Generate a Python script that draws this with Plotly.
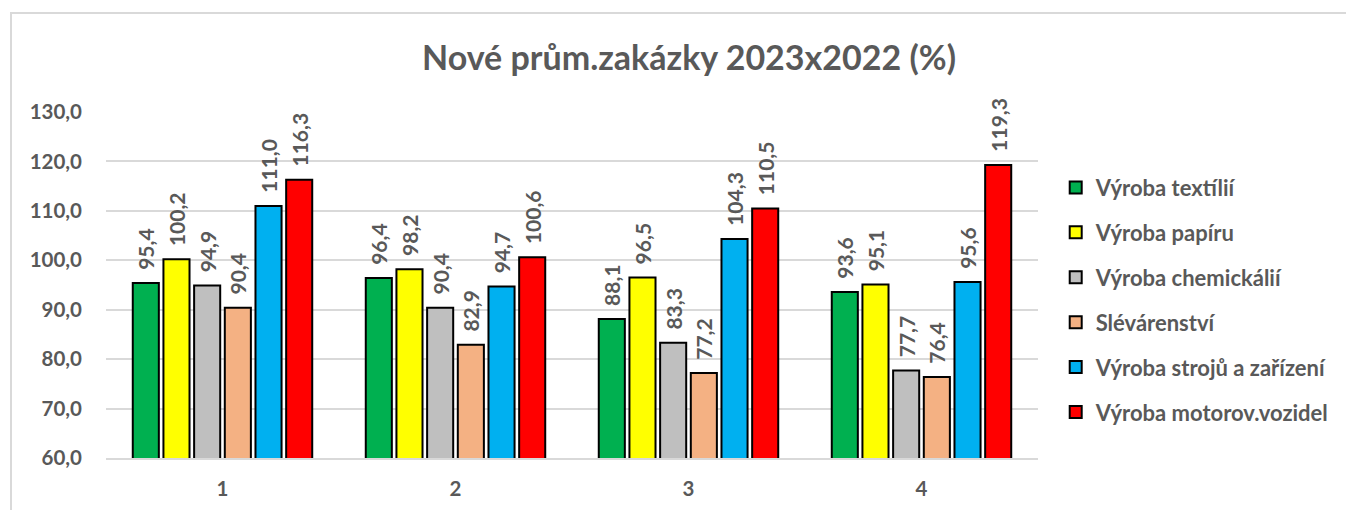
import plotly.graph_objects as go

kategorie = ["1", "2", "3", "4"]
obory = ["Výroba textílií", "Výroba papíru", "Výroba chemickálií", "Slévárenství",
         "Výroba strojů a zařízení", "Výroba motorov.vozidel"]
textilie = [95.4, 96.4, 88.1, 93.6]
papir = [100.2, 98.2, 96.5, 95.1]
chemikalie = [94.9, 90.4, 83.3, 77.7]
slevarenstvi = [90.4, 82.9, 77.2, 76.4]
stroje = [111.0, 94.7, 104.3, 95.6]
vozidla = [116.3, 100.6, 110.5, 119.3]
barvy = ["#00B050", "#FFFF00", "#BFBFBF", "#F4B183", "#00B0F0", "#FF0000"]

serie = [textilie, papir, chemikalie, slevarenstvi, stroje, vozidla]
font = "Lato"
seda = "#595959"

fig = go.Figure()
for i, (nazev, hodnoty) in enumerate(zip(obory, serie)):
    fig.add_trace(go.Bar(
        x=kategorie, y=hodnoty, name=nazev, legendgroup=str(i),
        marker=dict(color=barvy[i], line=dict(color="black", width=2)),
        text=["<b>\u00a0\u00a0" + f"{v:.1f}".replace(".", ",") + "</b>" for v in hodnoty],
        textposition="outside", textangle=-90, cliponaxis=False,
        textfont=dict(family=font, size=21, color=seda, weight="bold"),
    ))

# stránka má okraj 8 px, proto je vše posunuto
fig.update_layout(
    width=1354, height=510,
    margin=dict(l=98, r=324, t=104, b=60),
    paper_bgcolor="white", plot_bgcolor="white",
    barmode="group", bargap=0.21, bargroupgap=0.15,
    separators=",.",
    uniformtext=dict(minsize=21, mode="show"),
    title=dict(text="<b>Nové prům.zakázky 2023x2022 (%)</b>",
               x=681 / 1354, xref="container", xanchor="center",
               y=1 - 50 / 510, yanchor="middle",
               font=dict(family=font, size=34, color=seda)),
    legend=dict(x=1.019, y=0.842, xanchor="left", yanchor="top",
                traceorder="grouped", tracegroupgap=13.3,
                font=dict(family=font, size=22, color=seda, weight="bold")),
    showlegend=True,
)
fig.update_yaxes(range=[60, 130], dtick=10, tickformat=".1f",
                 showgrid=True, gridcolor="#D9D9D9", gridwidth=2,
                 zeroline=False, ticks="", ticklen=0, ticklabelstandoff=23,
                 tickfont=dict(family=font, size=20.5, color=seda, weight="bold"))
fig.update_xaxes(showline=True, linecolor="#D9D9D9", linewidth=2, ticks="",
                 ticklabelstandoff=11,
                 tickfont=dict(family=font, size=20.5, color=seda, weight="bold"))

# rámeček grafu
fig.add_shape(type="rect", xref="paper", yref="paper",
              x0=(3 - 98) / 932, x1=(1370 - 98) / 932,
              y0=(450 - 520) / 346, y1=(450 - 5) / 346,
              line=dict(color="#D9D9D9", width=2), fillcolor="rgba(0,0,0,0)", layer="below")

fig.write_html("out.html")
